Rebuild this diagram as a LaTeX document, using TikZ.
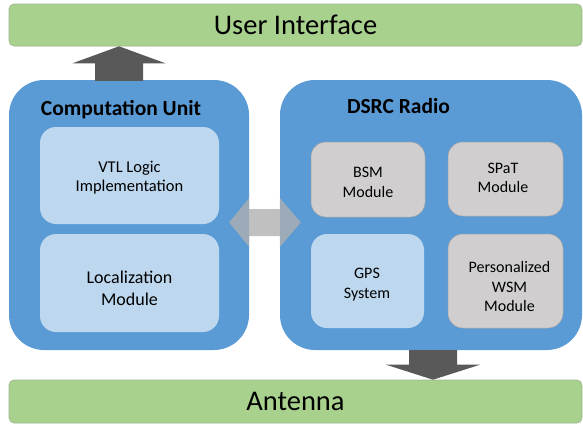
\documentclass[tikz,border=0pt]{standalone}
\usepackage{fontspec}
\setmainfont{Carlito}
\usetikzlibrary{calc}
\definecolor{barg}{HTML}{A9D18E}
\definecolor{bargline}{HTML}{9DB58C}
\definecolor{unitb}{HTML}{5B9BD5}
\definecolor{lightb}{HTML}{BDD7EE}
\definecolor{modg}{HTML}{D0CECE}
\definecolor{modgline}{HTML}{A9A6A6}
\definecolor{darkarr}{HTML}{595959}
\definecolor{midarr}{HTML}{AFAFAF}
\tikzset{
  bar/.style={rectangle, rounded corners=5pt, fill=barg, draw=bargline, line width=0.6pt,
    inner sep=0pt, font=\fontsize{28.5}{32}\selectfont},
  unit/.style={rectangle, rounded corners=35pt, fill=unitb, inner sep=0pt},
  utitle/.style={inner sep=0pt, font=\fontsize{21.5}{26}\selectfont\bfseries},
  lbox/.style={rectangle, rounded corners=16pt, fill=lightb, inner sep=0pt},
  gbox/.style={rectangle, rounded corners=15pt, fill=modg, draw=modgline, line width=0.5pt, inner sep=0pt},
  btext/.style={inner sep=0pt, align=center, font=\fontsize{16}{19.5}\selectfont},
  darrow/.style={fill=darkarr},
  marrow/.style={fill=midarr, fill opacity=0.79}
}
\begin{document}
\begin{tikzpicture}[x=1pt,y=-1pt]
\useasboundingbox (0,0) rectangle (583,423);
% bars
\node[bar, minimum width=573pt, minimum height=42pt] (ui) at (295.5,25) {User Interface};
\node[bar, minimum width=573pt, minimum height=43pt] (ant) at (295.5,401.5) {Antenna};
% units
\node[unit, minimum width=240pt, minimum height=270pt] (cu) at (129,215) {};
\node[unit, minimum width=302pt, minimum height=270pt] (dr) at (431,215) {};
\node[utitle] (cut) at (121,109.5) {Computation Unit};
\node[utitle] (drt) at (398.5,106.5) {DSRC Radio};
% computation modules
\node[lbox, minimum width=179pt, minimum height=97pt] (vtl) at (129.5,175.5) {};
\node[btext, font=\fontsize{16.5}{19.5}\selectfont] (vtlt) at (129.5,177.5) {VTL Logic\\Implementation};
\node[lbox, minimum width=179pt, minimum height=98pt] (loc) at (129.5,283) {};
\node[btext, font=\fontsize{18}{21.7}\selectfont] (loct) at (129.5,288) {Localization\\Module};
% radio modules
\node[gbox, minimum width=114pt, minimum height=75pt] (bsm) at (368,179.5) {};
\node[btext] (bsmt) at (368,182.5) {BSM\\Module};
\node[gbox, minimum width=115pt, minimum height=74pt] (spat) at (505.5,179) {};
\node[btext] (spatt) at (503,178) {SPaT\\Module};
\node[lbox, minimum width=113pt, minimum height=94pt] (gps) at (367.5,281) {};
\node[btext] (gpst) at (367,284.5) {GPS\\System};
\node[gbox, minimum width=115pt, minimum height=94pt] (pers) at (505.5,281) {};
\node[btext] (perst) at (509.5,286.5) {Personalized\\WSM\\Module};
% up arrow: computation unit -> user interface
\coordinate (uab) at (cu.north -| 119,0);
\coordinate (uat) at (ui.south -| 119,0);
\fill[darrow] ($(uab)+(-24,1)$) -- ($(uab)+(24,1)$) -- ($(uat)+(24,17)$) -- ($(uat)+(46.5,17)$)
  -- (uat) -- ($(uat)+(-46.5,17)$) -- ($(uat)+(-24,17)$) -- cycle;
% down arrow: DSRC radio -> antenna
\coordinate (dab) at (dr.south -| 433,0);
\coordinate (dat) at (ant.north -| 433,0);
\fill[darrow] ($(dab)+(-24,0)$) -- ($(dab)+(24,0)$) -- ($(dat)+(24,-15)$) -- ($(dat)+(47,-15)$)
  -- (dat) -- ($(dat)+(-47,-15)$) -- ($(dat)+(-24,-15)$) -- cycle;
% double arrow between computation unit and DSRC radio
\coordinate (lt) at ($(cu.east |- 0,222.5)+(-20,0)$);
\coordinate (rt) at ($(dr.west |- 0,222.5)+(21,0)$);
\fill[marrow] (lt) -- ($(lt)+(20,-24.5)$) -- ($(lt)+(20,-13.5)$) -- ($(rt)+(-21,-13.5)$)
  -- ($(rt)+(-21,-24.5)$) -- (rt) -- ($(rt)+(-21,24.5)$) -- ($(rt)+(-21,13.5)$)
  -- ($(lt)+(20,13.5)$) -- ($(lt)+(20,24.5)$) -- cycle;
\end{tikzpicture}
\end{document}
